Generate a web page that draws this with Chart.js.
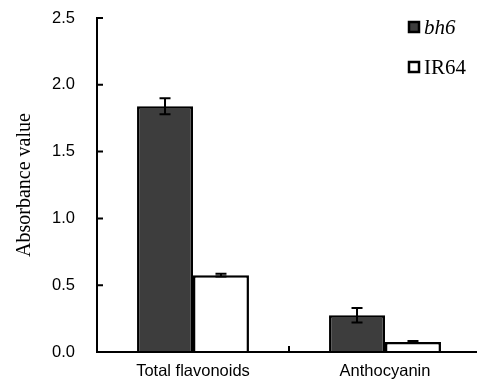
<!DOCTYPE html>
<html><head><meta charset="utf-8">
<script src="https://cdn.jsdelivr.net/npm/chart.js@4"></script>
<style>
html,body{margin:0;padding:0;overflow:hidden;background:#fff;}
#wrap{width:481px;height:379px;position:relative;}
</style></head>
<body><div id="wrap"><canvas id="c"></canvas></div>
<script>
const categories = ["Total flavonoids", "Anthocyanin"];
const seriesNames = ["bh6", "IR64"];
const bh6Values = [1.84, 0.275];
const ir64Values = [0.575, 0.075];
const bh6Errors = [0.06, 0.055];
const ir64Errors = [0.01, 0.008];
const yTicks = [0, 0.5, 1.0, 1.5, 2.0, 2.5];

const errorBars = {
  id: 'errorBars',
  afterDatasetsDraw(chart) {
    const ctx = chart.ctx, y = chart.scales.y;
    ctx.save();
    ctx.strokeStyle = '#000'; ctx.lineWidth = 2;
    chart.data.datasets.forEach((ds, i) => {
      const meta = chart.getDatasetMeta(i);
      meta.data.forEach((bar, j) => {
        const v = ds.data[j], e = ds.errors[j];
        const yt = y.getPixelForValue(v + e), yb = y.getPixelForValue(v - e);
        const x = bar.x, w = 5.5;
        ctx.beginPath();
        ctx.moveTo(x, yt); ctx.lineTo(x, yb);
        ctx.moveTo(x - w, yt); ctx.lineTo(x + w, yt);
        ctx.moveTo(x - w, yb); ctx.lineTo(x + w, yb);
        ctx.stroke();
      });
    });
    ctx.restore();
  }
};

const axesTicks = {
  id: 'axesTicks',
  afterDraw(chart) {
    const ctx = chart.ctx, y = chart.scales.y, x = chart.scales.x;
    const a = chart.chartArea;
    ctx.save();
    ctx.strokeStyle = '#000'; ctx.lineWidth = 2;
    ctx.beginPath();
    ctx.moveTo(a.left, a.top - 1); ctx.lineTo(a.left, a.bottom + 1);
    ctx.moveTo(a.left - 1, a.bottom); ctx.lineTo(a.right, a.bottom);
    yTicks.forEach(t => {
      const py = y.getPixelForValue(t);
      ctx.moveTo(a.left, py); ctx.lineTo(a.left + 6, py);
    });
    for (let i = 1; i < categories.length; i++) {
      const px = (x.getPixelForValue(i - 1) + x.getPixelForValue(i)) / 2;
      ctx.moveTo(px, a.bottom); ctx.lineTo(px, a.bottom - 6);
    }
    ctx.stroke();
    const items = chart.data.datasets;
    items.forEach((ds, i) => {
      const ly = 27 + i * 40;
      ctx.fillStyle = ds.backgroundColor;
      ctx.lineWidth = 2.5;
      ctx.strokeStyle = '#000';
      ctx.fillRect(409, ly - 5, 10, 10);
      ctx.strokeRect(409, ly - 5, 10, 10);
      ctx.fillStyle = '#000';
      ctx.font = (i === 0 ? 'italic ' : '') + '21px "Liberation Serif", "Times New Roman", serif';
      ctx.textBaseline = 'middle';
      ctx.textAlign = 'left';
      ctx.fillText(ds.label, 424, ly + 1);
    });
    ctx.restore();
  }
};

new Chart(document.getElementById('c'), {
  type: 'bar',
  data: {
    labels: categories,
    datasets: [
      { label: seriesNames[0], data: bh6Values, errors: bh6Errors, backgroundColor: '#3d3d3d', borderColor: '#000', borderWidth: 2.5 },
      { label: seriesNames[1], data: ir64Values, errors: ir64Errors, backgroundColor: '#ffffff', borderColor: '#000', borderWidth: 2.5 }
    ]
  },
  options: {
    responsive: true, maintainAspectRatio: false, animation: false,
    layout: { padding: { top: 18, left: 0, right: 0, bottom: 0 } },
    plugins: { legend: { display: false }, tooltip: { enabled: false } },
    datasets: { bar: { barPercentage: 1.0, categoryPercentage: 0.583 } },
    scales: {
      x: {
        grid: { display: false, drawTicks: false }, border: { display: false },
        ticks: { color: '#000', padding: 10, font: { family: '"Liberation Sans", Arial, sans-serif', size: 16.5 } },
        afterFit(s) { s.height = 27; s.paddingLeft = 0; s.paddingRight = 0; }
      },
      y: {
        min: 0, max: 2.5,
        afterBuildTicks(s) { s.ticks = yTicks.map(v => ({ value: v })); },
        grid: { display: false, drawTicks: false }, border: { display: false },
        ticks: { color: '#000', padding: 22, font: { family: '"Liberation Sans", Arial, sans-serif', size: 16.5 },
          callback: v => v.toFixed(1) },
        title: { display: true, text: 'Absorbance value', color: '#000', padding: { top: 13, bottom: 0 },
          font: { family: '"Liberation Serif", "Times New Roman", serif', size: 20 } },
        afterFit(s) { s.width = 97; s.paddingTop = 0; s.paddingBottom = 0; }
      }
    }
  },
  plugins: [errorBars, axesTicks]
});
</script></body></html>
